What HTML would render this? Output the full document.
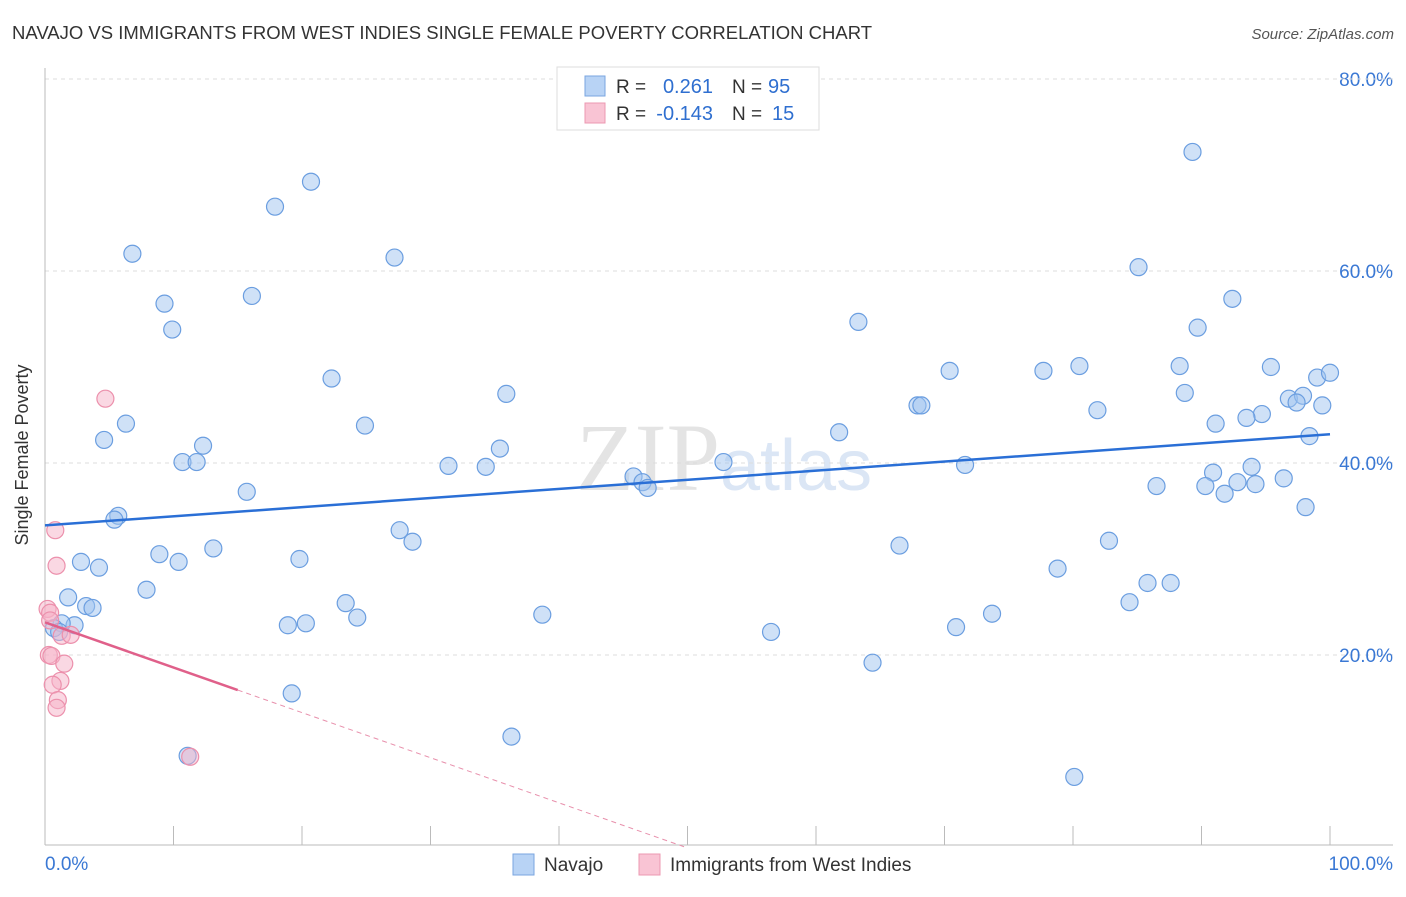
<!DOCTYPE html>
<html><head><meta charset="utf-8"><style>
body{margin:0;background:#fff;font-family:"Liberation Sans",sans-serif}
</style></head><body>
<svg width="1406" height="892" xmlns="http://www.w3.org/2000/svg" font-family="Liberation Sans, sans-serif">
<text x="12" y="39" font-size="18.5" fill="#333">NAVAJO VS IMMIGRANTS FROM WEST INDIES SINGLE FEMALE POVERTY CORRELATION CHART</text>
<text x="1394" y="39" font-size="15" fill="#555" font-style="italic" text-anchor="end">Source: ZipAtlas.com</text>
<text x="720" y="490" font-size="96" fill="#e4e4e4" text-anchor="end" font-family="Liberation Serif, serif">ZIP</text>
<text x="720" y="490" font-size="72" fill="#dbe6f5">atlas</text>
<g id="grid"></g><g id="axes"></g><g id="marks"></g>
<text x="28" y="455" font-size="18" fill="#333" transform="rotate(-90 28 455)" text-anchor="middle">Single Female Poverty</text>
<g>
<rect x="557" y="67" width="262" height="63" fill="#fff" stroke="#ddd"/>
<rect x="585" y="76" width="20" height="20" fill="#b8d3f5" stroke="#7aa6e0"/>
<rect x="585" y="103" width="20" height="20" fill="#f9c4d4" stroke="#ec98b2"/>
<text x="616" y="93" font-size="19" fill="#333">R =</text>
<text x="713" y="93" font-size="20" fill="#2f6fd0" text-anchor="end">0.261</text>
<text x="732" y="93" font-size="19" fill="#333">N =</text>
<text x="768" y="93" font-size="20" fill="#2f6fd0">95</text>
<text x="616" y="120" font-size="19" fill="#333">R =</text>
<text x="713" y="120" font-size="20" fill="#2f6fd0" text-anchor="end">-0.143</text>
<text x="732" y="120" font-size="19" fill="#333">N =</text>
<text x="772" y="120" font-size="20" fill="#2f6fd0">15</text>
</g>
<g>
<rect x="513" y="854" width="21" height="21" fill="#b8d3f5" stroke="#7aa6e0"/>
<text x="544" y="871" font-size="19" fill="#333">Navajo</text>
<rect x="639" y="854" width="21" height="21" fill="#f9c4d4" stroke="#ec98b2"/>
<text x="670" y="871" font-size="19" fill="#333">Immigrants from West Indies</text>
</g>
</svg>
<script>
const yTicks=[20,40,60,80];
const xTickVals=[0,10,20,30,40,50,60,70,80,90,100];
const navajoX=[89.3,20.7,17.9,6.8,27.2,85.1,16.1,9.3,92.4,9.9,63.3,89.7,22.3,80.5,88.3,70.4,77.7,95.4,99.0,100,35.9,88.7,96.8,97.9,97.4,99.4,67.9,68.2,81.9,94.7,93.5,91.1,6.3,24.9,61.8,98.4,4.6,12.3,35.4,10.7,11.8,31.4,34.3,52.8,71.6,45.8,46.5,46.9,93.9,90.9,96.4,86.5,90.3,92.8,94.2,91.8,15.7,98.1,5.7,5.4,27.6,28.6,82.8,66.5,13.1,8.9,2.8,19.8,10.4,4.2,78.8,85.8,87.6,7.9,1.8,23.4,3.2,3.7,84.4,38.7,73.7,24.3,18.9,20.3,70.9,2.3,1.3,0.7,56.5,1.1,64.4,19.2,36.3,80.1,11.1];
const navajoY=[72.4,69.3,66.7,61.8,61.4,60.4,57.4,56.6,57.1,53.9,54.7,54.1,48.8,50.1,50.1,49.6,49.6,50.0,48.9,49.4,47.2,47.3,46.7,47.0,46.3,46.0,46.0,46.0,45.5,45.1,44.7,44.1,44.1,43.9,43.2,42.8,42.4,41.8,41.5,40.1,40.1,39.7,39.6,40.1,39.8,38.6,38.0,37.4,39.6,39.0,38.4,37.6,37.6,38.0,37.8,36.8,37.0,35.4,34.5,34.1,33.0,31.8,31.9,31.4,31.1,30.5,29.7,30.0,29.7,29.1,29.0,27.5,27.5,26.8,26.0,25.4,25.1,24.9,25.5,24.2,24.3,23.9,23.1,23.3,22.9,23.1,23.3,22.8,22.4,22.4,19.2,16.0,11.5,7.3,9.5];
const wiX=[4.7,0.8,0.9,0.2,0.4,0.4,1.3,2.0,0.3,0.5,1.5,1.2,0.6,1.0,0.9,11.3];
const wiY=[46.7,33.0,29.3,24.8,24.4,23.6,22.0,22.1,20.0,19.9,19.1,17.3,16.9,15.3,14.5,9.4];
const navTrend=[33.5,43.0];
const wiTrend=[23.4,-0.47];
const NS="http://www.w3.org/2000/svg";
const sx=v=>45+12.85*v, sy=v=>847-9.6*v;
function mk(t,a,p){const e=document.createElementNS(NS,t);for(const k in a)e.setAttribute(k,a[k]);document.getElementById(p).appendChild(e);return e;}
yTicks.forEach(t=>{
 const l=mk('line',{x1:45,x2:1393,y1:sy(t),y2:sy(t),stroke:'#ddd','stroke-dasharray':'4,4'},'grid');
 
 
 const tx=mk('text',{x:1393,y:sy(t)+7,'font-size':19,fill:'#3a78d4','text-anchor':'end'},'grid');
 tx.textContent=t.toFixed(1)+'%';
 
 
});
const topGrid=mk('line',{x1:45,x2:1393,y1:79,y2:79,stroke:'#ddd','stroke-dasharray':'4,4'},'grid');


const ya=mk('line',{x1:45,x2:45,y1:68,y2:845,stroke:'#bbb'},'axes');


const xa=mk('line',{x1:45,x2:1393,y1:845,y2:845,stroke:'#bbb'},'axes');


xTickVals.forEach(v=>{const t=mk('line',{x1:sx(v),x2:sx(v),y1:826,y2:845,stroke:'#bbb'},'axes');
 
 });
const xl0=mk('text',{x:45,y:870,'font-size':19,fill:'#3a78d4'},'axes');xl0.textContent='0.0%';


const xl1=mk('text',{x:1393,y:870,'font-size':19,fill:'#3a78d4','text-anchor':'end'},'axes');xl1.textContent='100.0%';


navajoX.forEach((x,i)=>{const c=mk('circle',{cx:sx(x),cy:sy(navajoY[i]),r:8.5,fill:'rgba(160,196,240,0.5)',stroke:'#6b9ee0','stroke-width':1.2},'marks');
 
 });
wiX.forEach((x,i)=>{const c=mk('circle',{cx:sx(x),cy:sy(wiY[i]),r:8.5,fill:'rgba(246,178,200,0.5)',stroke:'#ec90ac','stroke-width':1.2},'marks');
 
 });
const bl=mk('line',{x1:sx(0),y1:sy(navTrend[0]),x2:sx(100),y2:sy(navTrend[1]),stroke:'#2a6fd6','stroke-width':2.5},'marks');


const pl=mk('line',{x1:sx(0),y1:sy(wiTrend[0]),x2:sx(15),y2:sy(wiTrend[0]+wiTrend[1]*15),stroke:'#e0608a','stroke-width':2.5},'marks');


const pd=mk('line',{x1:sx(15),y1:sy(wiTrend[0]+wiTrend[1]*15),x2:sx(50),y2:sy(wiTrend[0]+wiTrend[1]*50),stroke:'#e890ac','stroke-width':1,'stroke-dasharray':'5,4'},'marks');


</script>
</body></html>
